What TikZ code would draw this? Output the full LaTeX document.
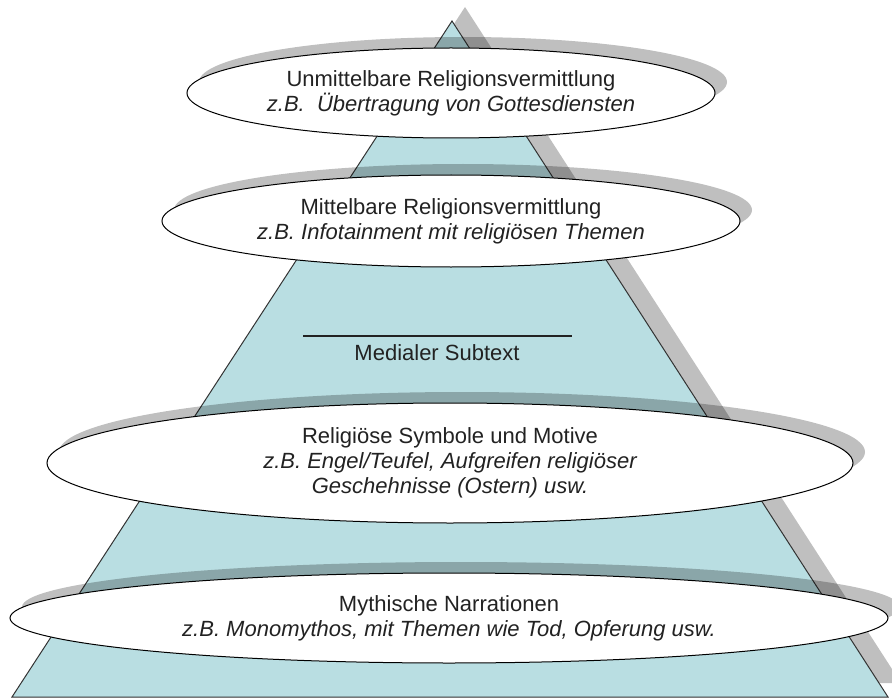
\documentclass[tikz,border=0pt]{standalone}
\usepackage{fontspec}
\setmainfont{Liberation Sans}
\usetikzlibrary{shapes.geometric,shadows}
\definecolor{pyrblue}{RGB}{185,222,226}
\definecolor{inkgray}{RGB}{34,34,34}
\tikzset{
  grayshadow/.style={drop shadow={shadow xshift=12pt,shadow yshift=11pt,fill=black,opacity=.25}},
  layer/.style={ellipse,draw=black,line width=1pt,fill=white,inner sep=0pt,align=center,
    text=inkgray,font=\fontsize{22}{25}\selectfont,grayshadow},
}

\begin{document}
\begin{tikzpicture}[x=1pt,y=-1pt]
\useasboundingbox (0,0) rectangle (892,698);
% pyramid
\draw[fill=pyrblue,draw=black!80,line width=1pt,
  drop shadow={shadow xshift=13pt,shadow yshift=14pt,fill=black,opacity=.25}]
  (452,21) -- (12,697) -- (888,697) -- cycle;
% layers
\node[layer,minimum width=528,minimum height=90] (direkt) at (451,93)
  {Unmittelbare Religionsvermittlung\\ \itshape z.B.\ \ Übertragung von Gottesdiensten};
\node[layer,minimum width=578,minimum height=92] (indirekt) at (451,221)
  {Mittelbare Religionsvermittlung\\ \itshape z.B. Infotainment mit religiösen Themen};
\coordinate (rulel) at (303,336);
\coordinate (ruler) at (572,336);
\draw[inkgray,line width=1.2pt] (rulel) -- (ruler);
\node[text=inkgray,font=\fontsize{22}{25}\selectfont] (subtext) at (437,353) {Medialer Subtext};
\node[layer,minimum width=806,minimum height=120] (symbole) at (450,463)
  {Religiöse Symbole und Motive\\ \itshape z.B. Engel/Teufel, Aufgreifen religiöser\\ \itshape Geschehnisse (Ostern) usw.};
\node[layer,minimum width=878,minimum height=90] (mythen) at (449,618)
  {Mythische Narrationen\\ \itshape z.B. Monomythos, mit Themen wie Tod, Opferung usw.};
\end{tikzpicture}
\end{document}
